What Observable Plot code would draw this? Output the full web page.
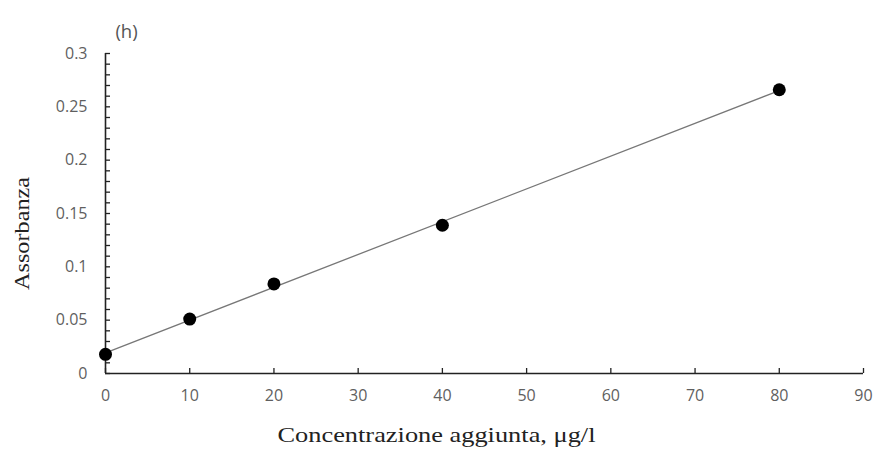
<!DOCTYPE html>
<html><head><meta charset="utf-8">
<script src="https://cdn.jsdelivr.net/npm/d3@7"></script>
<script src="https://cdn.jsdelivr.net/npm/@observablehq/plot@0.6"></script>
<style>body{margin:0;background:#fff}</style>
</head><body><div id="chart"></div>
<script>
const concentrations = [0, 10, 20, 40, 80];
const absorbances = [0.018, 0.051, 0.084, 0.139, 0.266];
const xTicks = [0, 10, 20, 30, 40, 50, 60, 70, 80, 90];
const yTicks = [0, 0.05, 0.1, 0.15, 0.2, 0.25, 0.3];
const yMinorTicks = d3.range(0, 31).map(i => i / 100);
const panelLabel = "(h)";
const xLabel = "Concentrazione aggiunta, μg/l";
const yLabel = "Assorbanza";

const data = concentrations.map((x, i) => ({x, y: absorbances[i]}));
const serif = "'Liberation Serif', 'Times New Roman', serif";

const chart = Plot.plot({
  width: 879, height: 462,
  marginLeft: 105, marginRight: 16, marginTop: 53, marginBottom: 89,
  x: {domain: [0, 90]},
  y: {domain: [0, 0.3]},
  style: {fontFamily: "'Open Sans', sans-serif", fontSize: "16px", background: "#fff"},
  marks: [
    Plot.axisX({ticks: xTicks, tickSize: 0, tickPadding: 16, label: null, fill: "#5f5f5f", fontSize: 16}),
    Plot.axisX({ticks: xTicks, tickSize: -5, fill: "none", stroke: "#222", strokeWidth: 1.3, label: null}),
    Plot.axisY({ticks: yTicks, tickSize: 0, tickPadding: 18, label: null, fill: "#5f5f5f", fontSize: 16,
      tickFormat: d => String(+d.toFixed(2))}),
    Plot.axisY({ticks: yMinorTicks, tickSize: -5, fill: "none", stroke: "#222", strokeWidth: 1.3, label: null}),
    Plot.ruleY([0], {stroke: "#222", strokeWidth: 1.6}),
    Plot.ruleX([0], {stroke: "#222", strokeWidth: 1.6}),
    Plot.linearRegressionY(data, {x: "x", y: "y", ci: 0, stroke: "#777", strokeWidth: 1.3}),
    Plot.dot(data, {x: "x", y: "y", r: 6.5, fill: "#000"}),
    Plot.text([panelLabel], {frameAnchor: "top-left", textAnchor: "middle", dx: 21, dy: -29, fontSize: 18.5, fill: "#555"}),
    Plot.text([yLabel], {frameAnchor: "left", textAnchor: "middle", rotate: -90, dx: -84, dy: 20, fontFamily: serif, fontSize: 22, fill: "#222"}),
    Plot.text([xLabel], {frameAnchor: "bottom", textAnchor: "middle", dx: -48, dy: 68, fontFamily: serif, fontSize: 22, fill: "#222"})
  ]
});
d3.select(chart).selectAll("text").each(function() {
  if (this.textContent === xLabel) {
    this.setAttribute("textLength", 318);
    this.setAttribute("lengthAdjust", "spacingAndGlyphs");
  }
  if (this.textContent === yLabel) {
    this.setAttribute("textLength", 113);
    this.setAttribute("lengthAdjust", "spacingAndGlyphs");
  }
});
document.getElementById("chart").appendChild(chart);
</script>
</body></html>
